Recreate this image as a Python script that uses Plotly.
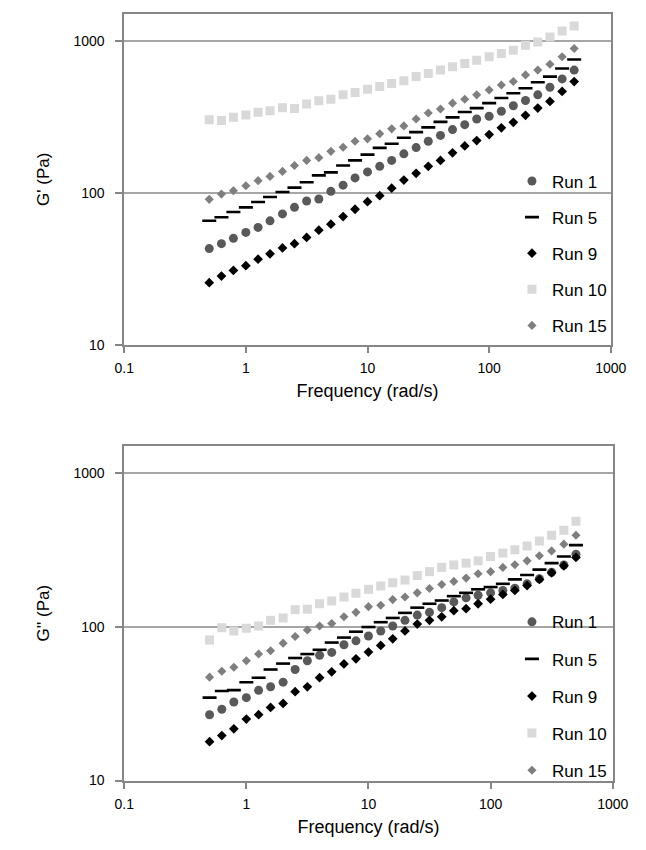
import plotly.graph_objects as go

# ---------------- data ----------------
freq = [0.5, 0.63, 0.79, 1.0, 1.26, 1.58, 2.0, 2.51, 3.16, 3.98, 5.0, 6.3, 7.9, 10.0,
        12.6, 15.8, 19.9, 25.1, 31.6, 39.8, 50.0, 63.0, 79.0, 100.0, 126.0, 158.0,
        199.0, 251.0, 316.0, 398.0, 500.0]

series_names = ["Run 1", "Run 5", "Run 9", "Run 10", "Run 15"]

# Storage modulus G' (Pa)
g1_run1 = [42.9, 46.2, 50.1, 54.8, 59.1, 65.3, 72.5, 80.1, 88.1, 90.8, 102, 112, 125, 137,
           149, 163, 180, 198, 218, 238, 260, 280, 305, 318, 343, 373, 404, 440, 494, 560, 640]
g1_run5 = [65.3, 69.0, 74.7, 80.1, 86.8, 93.6, 101, 108, 117, 130, 136, 151, 163, 178,
           197, 210, 230, 250, 269, 292, 313, 339, 360, 388, 419, 451, 486, 532, 580, 656, 752]
g1_run9 = [25.6, 28.3, 30.8, 33.1, 36.5, 39.6, 43.3, 46.2, 50.8, 56.7, 62.1, 69.7, 77.8, 87.3,
           95.5, 107, 121, 134, 149, 163, 183, 203, 220, 241, 267, 290, 323, 360, 398, 463, 538]
g1_run10 = [302, 298, 313, 324, 338, 346, 362, 358, 383, 402, 412, 440, 456, 479,
            499, 522, 545, 580, 609, 640, 673, 708, 744, 783, 823, 865, 932, 981, 1057, 1157, 1247]
g1_run15 = [90.4, 97.9, 103, 111, 120, 128, 138, 151, 163, 170, 187, 199, 218, 226,
            244, 263, 275, 305, 334, 355, 388, 412, 440, 474, 511, 538, 595, 640, 700, 783, 887]

# Loss modulus G'' (Pa)
g2_run1 = [26.8, 29.1, 32.4, 34.6, 38.6, 40.7, 43.6, 52.7, 60.1, 65.2, 68.1, 76.3, 80.9, 87.1,
           93.8, 101, 110, 119, 124, 133, 145, 154, 160, 166, 172, 178, 190, 205, 226, 252, 296]
g2_run5 = [34.6, 38.2, 38.7, 43.6, 46.6, 52.7, 57.6, 62.6, 66.4, 70.8, 78.9, 85.0, 92.8, 99.5,
           107, 114, 123, 133, 141, 148, 158, 166, 175, 181, 190, 203, 217, 235, 259, 286, 339]
g2_run9 = [17.9, 19.6, 21.7, 25.1, 26.8, 29.9, 31.7, 37.8, 40.7, 46.6, 50.9, 57.3, 61.9, 68.4,
           75.5, 83.4, 93.8, 104, 110, 116, 127, 131, 141, 151, 162, 172, 185, 203, 224, 249, 282]
g2_run10 = [82.1, 98.6, 93.8, 97.6, 101, 110, 114, 129, 130, 141, 147, 156, 165, 175,
            184, 193, 201, 215, 228, 243, 252, 259, 268, 286, 301, 316, 335, 361, 393, 423, 485]
g2_run15 = [47.0, 51.4, 54.5, 60.1, 66.4, 69.8, 78.2, 86.3, 95.3, 101, 105, 116, 124, 135,
            138, 150, 156, 166, 177, 188, 197, 207, 221, 228, 243, 253, 268, 289, 311, 344, 393]

x_tickvals = [0.1, 1, 10, 100, 1000]
x_ticktext = ["0.1", "1", "10", "100", "1000"]
y_tickvals = [10, 100, 1000]
y_ticktext = ["10", "100", "1000"]

# ---------------- styles ----------------
styles = {
    "Run 1": dict(symbol="circle", size=9, color="#595959", line=dict(width=0)),
    "Run 5": dict(symbol="line-ew", size=10, color="#000000", line=dict(width=2.6, color="#000000")),
    "Run 9": dict(symbol="diamond", size=7.5, color="#000000", line=dict(width=0)),
    "Run 10": dict(symbol="square", size=9, color="#d9d9d9", line=dict(width=0)),
    "Run 15": dict(symbol="diamond", size=7, color="#7f7f7f", line=dict(width=0)),
}

FONT = "Liberation Sans, Arial, sans-serif"

fig = go.Figure()

top_data = [g1_run1, g1_run5, g1_run9, g1_run10, g1_run15]
bot_data = [g2_run1, g2_run5, g2_run9, g2_run10, g2_run15]

for name, ys in zip(series_names, top_data):
    fig.add_trace(go.Scatter(x=freq, y=ys, mode="markers", name=name,
                             marker=styles[name], xaxis="x", yaxis="y",
                             legend="legend", legendgroup="t" + name))
for name, ys in zip(series_names, bot_data):
    fig.add_trace(go.Scatter(x=freq, y=ys, mode="markers", name=name,
                             marker=styles[name], xaxis="x2", yaxis="y2",
                             legend="legend2", legendgroup="b" + name))

W, H = 646, 850

def xax(anchor, l_px, r_px):
    return dict(type="log", range=[-1, 3], domain=[l_px / W, r_px / W], anchor=anchor,
                tickvals=x_tickvals, ticktext=x_ticktext, ticks="outside", ticklen=7,
                tickcolor="#868686", tickwidth=1.5, ticklabelstandoff=3,
                showline=True, mirror=True, linecolor="#868686", linewidth=1.5,
                showgrid=False, zeroline=False,
                tickfont=dict(family=FONT, size=14, color="#000000"),
                title=dict(text="Frequency (rad/s)", standoff=9,
                           font=dict(family=FONT, size=18, color="#000000")))

def yax(anchor, title, top_px, bot_px):
    return dict(type="log", range=[1, 3.176], domain=[1 - bot_px / H, 1 - top_px / H],
                anchor=anchor,
                tickvals=y_tickvals, ticktext=y_ticktext, ticks="outside", ticklen=7,
                tickcolor="#868686", tickwidth=1.5, ticklabelstandoff=8,
                showline=True, mirror=True, linecolor="#868686", linewidth=1.5,
                showgrid=True, gridcolor="#a6a6a6", gridwidth=2, zeroline=False,
                tickfont=dict(family=FONT, size=14, color="#000000"),
                title=dict(text=title, standoff=20,
                           font=dict(family=FONT, size=17, color="#000000")))

fig.update_layout(
    width=W, height=H,
    margin=dict(l=0, r=0, t=0, b=0),
    paper_bgcolor="white", plot_bgcolor="white",
    showlegend=True,
    xaxis=xax("y", 119, 626),
    yaxis=yax("x", "G' (Pa)", 14, 348),
    xaxis2=xax("y2", 119, 628),
    yaxis2=yax("x2", "G'' (Pa)", 450, 788),
    legend=dict(x=523 / W, y=1 - 165 / H, xanchor="left", yanchor="top",
                bgcolor="rgba(0,0,0,0)", tracegroupgap=11, itemwidth=30,
                font=dict(family=FONT, size=17, color="#000000")),
    legend2=dict(x=523 / W, y=1 - 610 / H, xanchor="left", yanchor="top",
                 bgcolor="rgba(0,0,0,0)", tracegroupgap=12, itemwidth=30,
                 font=dict(family=FONT, size=17, color="#000000")),
)

fig.write_html("out.html")
